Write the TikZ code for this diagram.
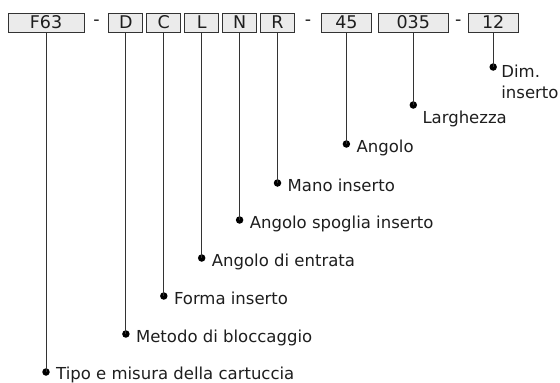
\documentclass[tikz,border=0pt]{standalone}
\usepackage{fontspec}
\setmainfont{DejaVu Sans}
\usepackage{tikz}
\usetikzlibrary{positioning, calc}
\definecolor{boxfill}{HTML}{EBEBEB}
\definecolor{boxline}{HTML}{333333}
\definecolor{txt}{HTML}{1E1E1E}
\tikzset{
  % Code boxes
  codebox/.style={rectangle, minimum width=#1, minimum height=19pt, inner sep=0pt, text centered, draw=boxline, fill=boxfill, line width=0.9pt, text=txt, font=\fontsize{17.5}{17.5}\selectfont},
  codebox/.default={34pt},
  sep/.style={inner sep=0pt, text=txt, font=\fontsize{17.5}{17.5}\selectfont},
  % Leaders and labels
  dot/.style={circle, fill=black, inner sep=0pt, minimum size=7.5pt},
  lead/.style={draw=boxline, line width=0.9pt},
  lbl/.style={anchor=base west, inner sep=0pt, align=left, text=txt, font=\fontsize{16.5}{21}\selectfont},
}

\begin{document}
\begin{tikzpicture}[x=1pt, y=-1pt]
    \useasboundingbox (0,0) rectangle (560,383);

    % Code
    \node[codebox=76pt] (f63) at (46,22.5) {F63};
    \node[codebox, right=24pt of f63] (d) {D};
    \node[codebox, right=3pt of d] (c) {C};
    \node[codebox, right=3pt of c] (l) {L};
    \node[codebox, right=3pt of l] (n) {N};
    \node[codebox, right=3pt of n] (r) {R};
    \node[codebox=50pt, right=26pt of r] (ang) {45};
    \node[codebox=70pt, right=6pt of ang] (wid) {035};
    \node[codebox=50pt, right=19pt of wid] (siz) {12};

    \node[sep] (s1) at ($(f63.east)!0.5!(d.west)$) {-};
    \node[sep] (s2) at ($(r.east)!0.5!(ang.west)$) {-};
    \node[sep] (s3) at ($(wid.east)!0.5!(siz.west)$) {-};

    % Dots
    \node[dot] (psiz) at (siz.south |- 0,67) {};
    \node[dot] (pwid) at (wid.south |- 0,105) {};
    \node[dot] (pang) at (ang.south |- 0,144) {};
    \node[dot] (pr) at (r.south |- 0,183) {};
    \node[dot] (pn) at (n.south |- 0,220) {};
    \node[dot] (pl) at (l.south |- 0,258) {};
    \node[dot] (pc) at (c.south |- 0,296) {};
    \node[dot] (pd) at (d.south |- 0,334) {};
    \node[dot] (pf63) at (f63.south |- 0,372) {};

    % Leaders
    \foreach \b in {siz, wid, ang, r, n, l, c, d, f63}
      \draw[lead] (\b.south) -- (p\b.center);

    % Labels
    \node[lbl] (tsiz) at ($(psiz)+(8,31)$) {Dim.\\inserto};
    \node[lbl] (twid) at ($(pwid)+(9,18)$) {Larghezza};
    \node[lbl] (tang) at ($(pang)+(10,8)$) {Angolo};
    \node[lbl] (tr) at ($(pr)+(10,8)$) {Mano inserto};
    \node[lbl] (tn) at ($(pn)+(10,8)$) {Angolo spoglia inserto};
    \node[lbl] (tl) at ($(pl)+(10,8)$) {Angolo di entrata};
    \node[lbl] (tc) at ($(pc)+(10,8)$) {Forma inserto};
    \node[lbl] (td) at ($(pd)+(10,8)$) {Metodo di bloccaggio};
    \node[lbl] (tf63) at ($(pf63)+(10,7)$) {Tipo e misura della cartuccia};
  \end{tikzpicture}
\end{document}
